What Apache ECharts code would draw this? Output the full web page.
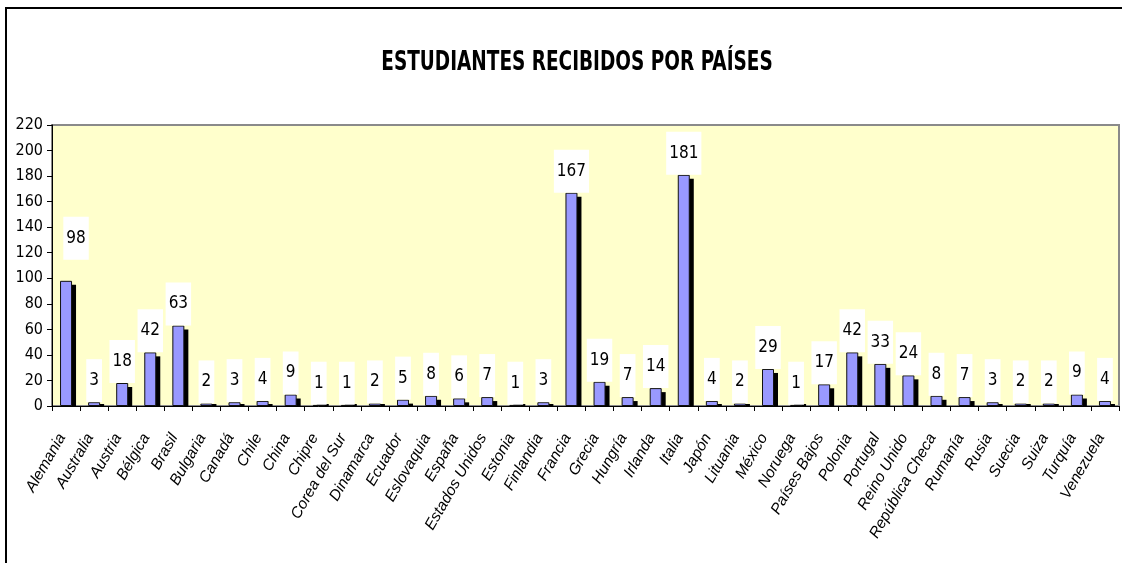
<!DOCTYPE html>
<html>
<head>
<meta charset="utf-8">
<script src="https://cdn.jsdelivr.net/npm/echarts@6/dist/echarts.min.js"></script>
<style>
html,body{margin:0;padding:0;background:#fff;}
#chart{width:1122px;height:563px;}
</style>
</head>
<body>
<div id="chart"></div>
<script>
const titleText = 'ESTUDIANTES RECIBIDOS POR PAÍSES';
const categories = ['Alemania','Australia','Austria','Bélgica','Brasil','Bulgaria','Canadá','Chile','China','Chipre','Corea del Sur','Dinamarca','Ecuador','Eslovaquia','España','Estados Unidos','Estonia','Finlandia','Francia','Grecia','Hungría','Irlanda','Italia','Japón','Lituania','México','Noruega','Países Bajos','Polonia','Portugal','Reino Unido','República Checa','Rumanía','Rusia','Suecia','Suiza','Turquía','Venezuela'];
const values = [98,3,18,42,63,2,3,4,9,1,1,2,5,8,6,7,1,3,167,19,7,14,181,4,2,29,1,17,42,33,24,8,7,3,2,2,9,4];
const yMin = 0, yMax = 220, yStep = 20;

const condFamily = "'DejaVu Sans'";
const chart = echarts.init(document.getElementById('chart'), null, {renderer:'canvas'});

const BAR_W = 12, SHADOW = 4;

const seriesData = values.map((v, i) => {
  const item = { value: v };
  if (i === 0) item.label = { offset: [10, -21] };
  return item;
});
const shadowData = values.map((v, i) => [i, v]);

chart.setOption({
  backgroundColor: '#ffffff',
  animation: false,
  graphic: [{
    type: 'rect', z: -10, silent: true,
    shape: { x: 6, y: 8, width: 1300, height: 700 },
    style: { fill: 'none', stroke: '#000', lineWidth: 2 }
  }, {
    type: 'text', z: 10, silent: true,
    x: 577, y: 63, scaleX: 0.79,
    style: {
      text: titleText, x: 0, y: 0, align: 'center', verticalAlign: 'middle',
      font: "bold condensed 26px 'DejaVu Sans'", fill: '#000'
    }
  }],
  grid: {
    left: 52, right: 3, top: 125, bottom: 157,
    show: true, backgroundColor: '#FFFFCC', borderColor: '#8a8a8a', borderWidth: 2
  },
  xAxis: {
    type: 'category',
    data: categories,
    axisLine: { show: true, lineStyle: { color: '#000', width: 1 } },
    axisTick: { show: true, length: 5, lineStyle: { color: '#000' } },
    axisLabel: {
      interval: 0, rotate: 60, margin: 22,
      padding: [0, 8, 0, 0],
      fontFamily: "'Liberation Sans',Arial,sans-serif", fontStyle: 'italic',
      fontSize: 15.5, color: '#000'
    },
    splitLine: { show: false }
  },
  yAxis: {
    type: 'value',
    min: yMin, max: yMax, interval: yStep,
    axisLine: { show: true, lineStyle: { color: '#000', width: 1 } },
    axisTick: { show: true, length: 5, lineStyle: { color: '#000' } },
    axisLabel: { fontFamily: condFamily, fontWeight: 'condensed', fontSize: 16, color: '#000', margin: 9 },
    splitLine: { show: false }
  },
  series: [{
    type: 'custom',
    z: 1,
    silent: true,
    data: shadowData,
    renderItem: function (params, api) {
      const top = api.coord([api.value(0), api.value(1)]);
      const base = api.coord([api.value(0), 0]);
      const y = Math.min(top[1] + SHADOW, base[1] - 2);
      return {
        type: 'rect',
        shape: { x: top[0] - BAR_W / 2 + SHADOW, y: y, width: BAR_W, height: base[1] - y },
        style: { fill: '#000' }
      };
    }
  }, {
    type: 'bar',
    z: 2,
    data: seriesData,
    barWidth: BAR_W,
    itemStyle: { color: '#9999FF', borderColor: '#111', borderWidth: 1 },
    label: {
      show: true, position: 'top', distance: 0,
      backgroundColor: '#fff',
      padding: [13, 3, 13, 3],
      fontFamily: condFamily, fontWeight: 'condensed', fontSize: 17, color: '#000'
    }
  }]
});
</script>
</body>
</html>
